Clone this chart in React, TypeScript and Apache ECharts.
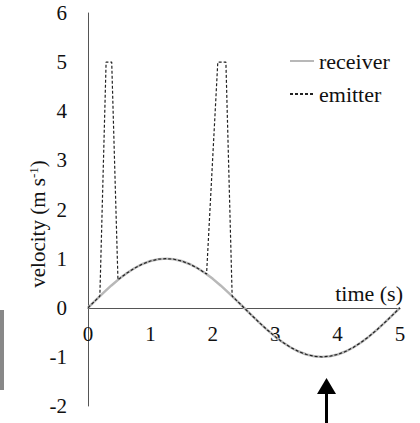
import React, { useEffect, useRef } from "react";
import * as echarts from "echarts";

// time samples (s) for the receiver curve
const receiverTime = [
  0, 0.125, 0.25, 0.375, 0.5, 0.625, 0.75, 0.875, 1, 1.125, 1.25, 1.375, 1.5, 1.625, 1.75, 1.875, 2,
  2.125, 2.25, 2.375, 2.5, 2.625, 2.75, 2.875, 3, 3.125, 3.25, 3.375, 3.5, 3.625, 3.75, 3.875, 4,
  4.125, 4.25, 4.375, 4.5, 4.625, 4.75, 4.875, 5,
];
// receiver velocity (m/s)
const receiverVel = [
  0, 0.156, 0.309, 0.454, 0.588, 0.707, 0.809, 0.891, 0.951, 0.988, 1, 0.988, 0.951, 0.891, 0.809,
  0.707, 0.588, 0.454, 0.309, 0.156, 0, -0.156, -0.309, -0.454, -0.588, -0.707, -0.809, -0.891,
  -0.951, -0.988, -1, -0.988, -0.951, -0.891, -0.809, -0.707, -0.588, -0.454, -0.309, -0.156, 0,
];
// emitter: follows the receiver except for two spikes to 5 m/s
const emitterTime = [
  0, 0.125, 0.19, 0.29, 0.38, 0.48, 0.5, 0.625, 0.75, 0.875, 1, 1.125, 1.25, 1.375, 1.5, 1.625,
  1.75, 1.875, 1.9, 2.08, 2.21, 2.31, 2.375, 2.5, 2.625, 2.75, 2.875, 3, 3.125, 3.25, 3.375, 3.5,
  3.625, 3.75, 3.875, 4, 4.125, 4.25, 4.375, 4.5, 4.625, 4.75, 4.875, 5,
];
const emitterVel = [
  0, 0.156, 0.237, 5, 5, 0.567, 0.588, 0.707, 0.809, 0.891, 0.951, 0.988, 1, 0.988, 0.951, 0.891,
  0.809, 0.707, 0.685, 5, 5, 0.237, 0.156, 0, -0.156, -0.309, -0.454, -0.588, -0.707, -0.809,
  -0.891, -0.951, -0.988, -1, -0.988, -0.951, -0.891, -0.809, -0.707, -0.588, -0.454, -0.309,
  -0.156, 0,
];

const FONT = "Liberation Serif";
const GRID_TOP = 13;
const GRID_BOTTOM = 17;
const CHART_H = 423;
const Y_MIN = -2;
const Y_MAX = 6;
// place the x axis on v = 0
const plotH = CHART_H - GRID_TOP - GRID_BOTTOM;
const xAxisOffset = -(plotH * (0 - Y_MIN)) / (Y_MAX - Y_MIN);

export default function App() {
  const ref = useRef<HTMLDivElement>(null);
  useEffect(() => {
    if (!ref.current) return;
    const chart = echarts.init(ref.current, undefined, { renderer: "svg" });
    chart.setOption({
      animation: false,
      backgroundColor: "#ffffff",
      textStyle: { fontFamily: FONT },
      grid: { left: 88, right: 20, top: GRID_TOP, bottom: GRID_BOTTOM, containLabel: false, outerBoundsMode: "none" },
      legend: {
        orient: "vertical",
        left: 284,
        top: 45,
        itemWidth: 24,
        itemHeight: 14,
        itemGap: 11,
        itemStyle: { opacity: 0 },
        textStyle: { fontFamily: FONT, fontSize: 22, color: "#111" },
        data: ["receiver", "emitter"],
      },
      xAxis: {
        type: "value",
        min: 0,
        max: 5,
        interval: 1,
        offset: xAxisOffset,
        axisLine: { onZero: false, lineStyle: { color: "#555", width: 1 } },
        axisTick: { show: false },
        splitLine: { show: false },
        axisLabel: { fontFamily: FONT, fontSize: 21, color: "#111", margin: 16 },
      },
      yAxis: {
        type: "value",
        min: Y_MIN,
        max: Y_MAX,
        interval: 1,
        axisLine: { show: true, lineStyle: { color: "#555", width: 1 } },
        axisTick: { show: false },
        splitLine: { show: false },
        axisLabel: { fontFamily: FONT, fontSize: 21, color: "#111", margin: 21 },
      },
      series: [
        {
          name: "receiver",
          type: "line",
          data: receiverTime.map((t, i) => [t, receiverVel[i]]),
          showSymbol: false,
          symbol: "none",
          lineStyle: { color: "#b8b8b8", width: 2.5 },
          itemStyle: { color: "#b8b8b8" },
          z: 2,
        },
        {
          name: "emitter",
          type: "line",
          data: emitterTime.map((t, i) => [t, emitterVel[i]]),
          showSymbol: false,
          symbol: "none",
          lineStyle: { color: "#222", width: 1.2, type: [3, 2] },
          itemStyle: { color: "#222" },
          z: 3,
        },
      ],
      graphic: [
        {
          type: "text",
          x: 38,
          y: 224,
          rotation: Math.PI / 2,
          style: {
            text: "velocity (m s{sup|-1})",
            fontFamily: FONT,
            fontSize: 21,
            fill: "#111",
            align: "center",
            verticalAlign: "middle",
            rich: {
              sup: { fontFamily: FONT, fontSize: 13, fill: "#111", padding: [0, 0, 9, 0] },
            },
          },
        },
        {
          type: "text",
          x: 403,
          y: 293,
          style: {
            text: "time (s)",
            fontFamily: FONT,
            fontSize: 22,
            fill: "#111",
            align: "right",
            verticalAlign: "middle",
          },
        },
        { type: "rect", shape: { x: 0, y: 310, width: 4, height: 80 }, style: { fill: "#888" } },
        {
          type: "polygon",
          shape: { points: [[326.5, 378], [317, 394], [336, 394]] },
          style: { fill: "#000" },
        },
        { type: "rect", shape: { x: 325, y: 392, width: 3, height: 31 }, style: { fill: "#000" } },
      ],
    });
    return () => chart.dispose();
  }, []);
  return (
    <div
      ref={ref}
      style={{ position: "absolute", left: 0, top: 0, width: 420, height: 423 }}
    />
  );
}
